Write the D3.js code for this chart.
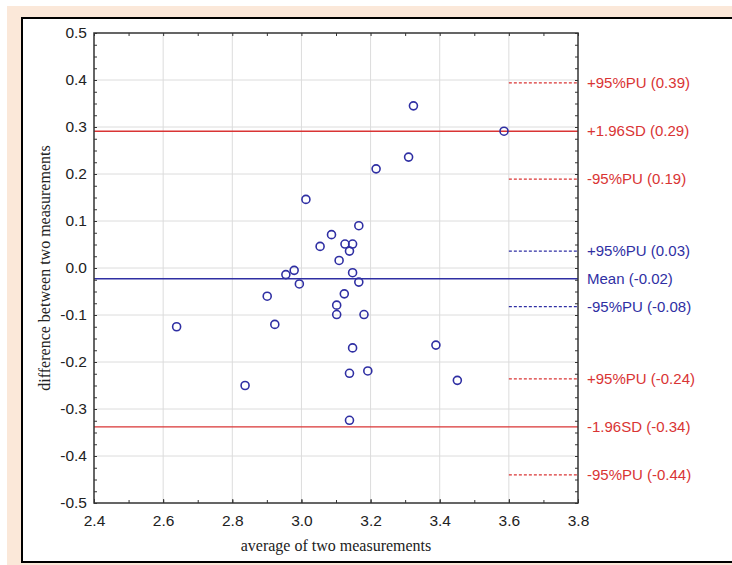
<!DOCTYPE html>
<html><head><meta charset="utf-8">
<script src="https://cdn.jsdelivr.net/npm/d3@7"></script>
<style>html,body{margin:0;padding:0;background:#fff;}svg{display:block;}</style>
</head><body>
<svg id="c" width="732" height="565"></svg>
<script>
// Data
const avgValues = [2.639, 2.837, 2.901, 2.923, 2.955, 2.979, 2.994, 3.013, 3.054, 3.087, 3.102, 3.102, 3.109, 3.124, 3.126, 3.139, 3.139, 3.139, 3.148, 3.148, 3.148, 3.166, 3.166, 3.181, 3.192, 3.216, 3.310, 3.324, 3.389, 3.451, 3.586];
const diffValues = [-0.125, -0.250, -0.060, -0.120, -0.014, -0.005, -0.034, 0.146, 0.046, 0.071, -0.079, -0.099, 0.016, -0.055, 0.051, 0.036, -0.224, -0.324, 0.051, -0.010, -0.170, 0.090, -0.030, -0.099, -0.219, 0.211, 0.236, 0.345, -0.164, -0.239, 0.291];
const refLabels = ["+95%PU (0.39)", "+1.96SD (0.29)", "-95%PU (0.19)", "+95%PU (0.03)", "Mean (-0.02)", "-95%PU (-0.08)", "+95%PU (-0.24)", "-1.96SD (-0.34)", "-95%PU (-0.44)"];
const refValues = [0.394, 0.291, 0.189, 0.036, -0.023, -0.082, -0.236, -0.338, -0.440];
const refKinds = ["dash", "solid", "dash", "dash", "solid", "dash", "dash", "solid", "dash"];
const refGroups = ["red", "red", "red", "blue", "blue", "blue", "red", "red", "red"];
const xTickLabels = [2.4, 2.6, 2.8, 3.0, 3.2, 3.4, 3.6, 3.8];
const yTickLabels = [0.5, 0.4, 0.3, 0.2, 0.1, 0.0, -0.1, -0.2, -0.3, -0.4, -0.5];
const xTitle = "average of two measurements";
const yTitle = "difference between two measurements";

const colors = {red: "#d93434", blue: "#2f2fa3"};
const svg = d3.select("#c");

// Frame backgrounds
svg.append("rect").attr("x", 7).attr("y", 6).attr("width", 725).attr("height", 559).attr("fill", "#fbe8d9");
svg.append("rect").attr("x", 22).attr("y", 18).attr("width", 720).attr("height", 544)
  .attr("fill", "#fff").attr("stroke", "#000").attr("stroke-width", 2);

const L = 94, R = 578, T = 33, B = 503;
const x = d3.scaleLinear().domain([2.4, 3.8]).range([L, R]);
const y = d3.scaleLinear().domain([-0.5, 0.5]).range([B, T]);

const xMinor = d3.range(24, 39).map(v => v / 10);
const yMinor = d3.range(-20, 21).map(v => v * 0.025);

// Grid
const grid = svg.append("g");
grid.selectAll("line.gx").data(xTickLabels.slice(1, -1)).join("line")
  .attr("x1", d => x(d)).attr("x2", d => x(d)).attr("y1", T).attr("y2", B)
  .attr("stroke", "#dcdcdc").attr("stroke-width", 1);
grid.selectAll("line.gy").data(yTickLabels.slice(1, -1)).join("line")
  .attr("x1", L).attr("x2", R).attr("y1", d => y(d)).attr("y2", d => y(d))
  .attr("stroke", "#dcdcdc").attr("stroke-width", 1);

// Reference lines
const refs = refValues.map((v, i) => ({v, label: refLabels[i], kind: refKinds[i], col: colors[refGroups[i]]}));
svg.append("g").selectAll("line").data(refs).join("line")
  .attr("x1", d => d.kind === "solid" ? x(2.4) : x(3.6))
  .attr("x2", x(3.8))
  .attr("y1", d => y(d.v)).attr("y2", d => y(d.v))
  .attr("stroke", d => d.col)
  .attr("stroke-width", d => d.kind === "solid" ? 1.4 : 1.2)
  .attr("stroke-dasharray", d => d.kind === "solid" ? null : "3,2");

// Axes (inward ticks)
const tickFont = "Liberation Sans, Arial, sans-serif";
function styleAxis(g) {
  g.select(".domain").remove();
  g.selectAll(".tick line").attr("stroke", "#333").attr("stroke-width", 1);
  g.selectAll(".tick text").attr("font-family", tickFont).attr("font-size", 15.5).attr("fill", "#222");
}
const fmt = d => d.toFixed(1);
svg.append("g").attr("transform", `translate(0,${B})`)
  .call(d3.axisBottom(x).tickValues(xTickLabels).tickFormat(fmt).tickSize(-4).tickPadding(12))
  .call(styleAxis);
svg.append("g").attr("transform", `translate(0,${B})`)
  .call(d3.axisBottom(x).tickValues(xMinor).tickFormat("").tickSize(-3)).call(styleAxis);
svg.append("g").attr("transform", `translate(0,${T})`)
  .call(d3.axisTop(x).tickValues(xMinor).tickFormat("").tickSize(-3)).call(styleAxis);
svg.append("g").attr("transform", `translate(${L},0)`)
  .call(d3.axisLeft(y).tickValues(yTickLabels).tickFormat(fmt).tickSize(-3).tickPadding(7))
  .call(styleAxis);
svg.append("g").attr("transform", `translate(${L},0)`)
  .call(d3.axisLeft(y).tickValues(yMinor).tickFormat("").tickSize(-3)).call(styleAxis);
svg.append("g").attr("transform", `translate(${R},0)`)
  .call(d3.axisRight(y).tickValues(yMinor).tickFormat("").tickSize(-3)).call(styleAxis);

// Plot frame
svg.append("rect").attr("x", L).attr("y", T).attr("width", R - L).attr("height", B - T)
  .attr("fill", "none").attr("stroke", "#333").attr("stroke-width", 1.5);

// Points
svg.append("g").selectAll("circle").data(avgValues.map((a, i) => [a, diffValues[i]])).join("circle")
  .attr("cx", d => x(d[0])).attr("cy", d => y(d[1])).attr("r", 4)
  .attr("fill", "none").attr("stroke", colors.blue).attr("stroke-width", 1.6);

// Reference labels
svg.append("g").selectAll("text").data(refs).join("text")
  .attr("x", R + 9).attr("y", d => y(d.v)).attr("dy", "0.35em")
  .attr("font-family", tickFont).attr("font-size", 15).attr("fill", d => d.col)
  .text(d => d.label);

// Titles
svg.append("text").attr("x", (L + R) / 2).attr("y", 551).attr("text-anchor", "middle")
  .attr("font-family", "Liberation Serif, Times New Roman, serif").attr("font-size", 16).attr("fill", "#222")
  .text(xTitle);
svg.append("text").attr("transform", `translate(50,${(T + B) / 2}) rotate(-90)`).attr("text-anchor", "middle")
  .attr("font-family", "Liberation Serif, Times New Roman, serif").attr("font-size", 16).attr("fill", "#222")
  .text(yTitle);
</script>
</body></html>
